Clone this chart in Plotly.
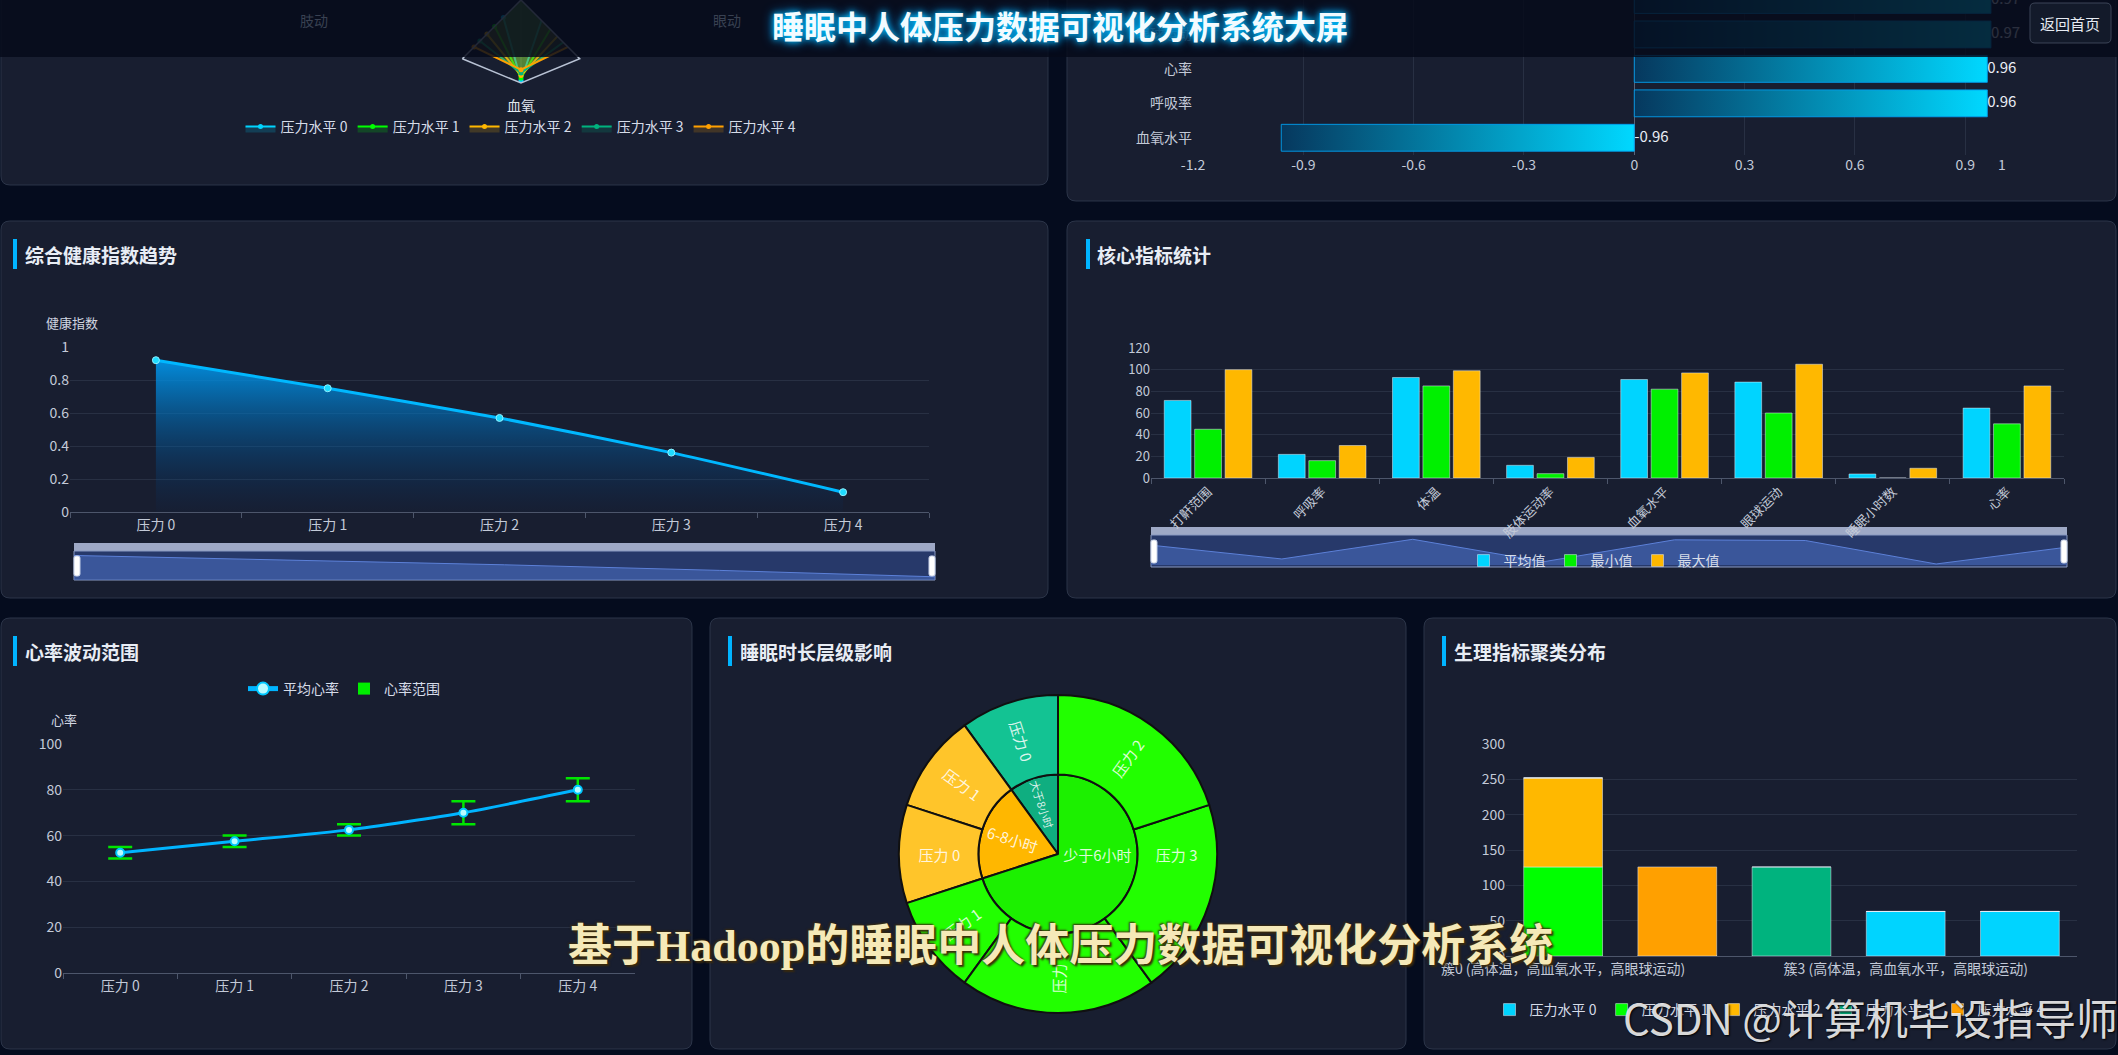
import plotly.graph_objects as go
import numpy as np

W, H = 2118, 1055
FONT = "Noto Sans CJK SC, Noto Sans, sans-serif"

# ---------------- data ----------------
stress_levels = ["压力水平 0", "压力水平 1", "压力水平 2", "压力水平 3", "压力水平 4"]
level_colors = ["#00d4ff", "#00ff00", "#ffb800", "#00b37e", "#ffa000"]

radar_indicators = ["打鼾", "心率", "呼吸", "眼动", "血氧", "肢动", "体温", "睡眠"]
radar_lv0 = [0.47, 0.55, 0.55, 0.35, 0.97, 0.30, 0.97, 0.90]
radar_lv1 = [0.55, 0.62, 0.62, 0.50, 0.94, 0.45, 0.96, 0.70]
radar_lv2 = [0.62, 0.68, 0.70, 0.62, 0.91, 0.58, 0.95, 0.45]
radar_lv3 = [0.75, 0.75, 0.80, 0.72, 0.88, 0.70, 0.93, 0.25]
radar_lv4 = [0.93, 0.90, 0.93, 0.80, 0.84, 0.80, 0.90, 0.05]

corr_features = ["血氧水平", "呼吸率", "心率", "眼球运动", "肢体运动率"]
corr_values = [-0.96, 0.96, 0.96, 0.97, 0.97]
corr_ticks = [-1.2, -0.9, -0.6, -0.3, 0, 0.3, 0.6, 0.9, 1]
corr_tick_text = ["-1.2", "-0.9", "-0.6", "-0.3", "0", "0.3", "0.6", "0.9", "1"]

stress_labels = ["压力 0", "压力 1", "压力 2", "压力 3", "压力 4"]
health_index = [0.92, 0.75, 0.57, 0.36, 0.12]

core_metrics = ["打鼾范围", "呼吸率", "体温", "肢体运动率", "血氧水平", "眼球运动", "睡眠小时数", "心率"]
core_avg = [71.6, 21.8, 92.8, 11.7, 90.9, 88.5, 3.7, 64.5]
core_min = [45, 16, 85, 4, 82, 60, 0, 50]
core_max = [100, 30, 99, 19, 97, 105, 9, 85]

hr_mean = [52.5, 57.5, 62.5, 70, 80]
hr_min = [50, 55, 60, 65, 75]
hr_max = [55, 60, 65, 75, 85]

sb_ids = ["大于8小时", "6-8小时", "少于6小时",
          "大于8小时/压力 0",
          "6-8小时/压力 1", "6-8小时/压力 0",
          "少于6小时/压力 1", "少于6小时/压力 4", "少于6小时/压力 3", "少于6小时/压力 2"]
sb_labels = ["大于8小时", "6-8小时", "少于6小时",
             "压力 0", "压力 1", "压力 0", "压力 1", "压力 4", "压力 3", "压力 2"]
sb_parents = ["", "", "", "大于8小时", "6-8小时", "6-8小时",
              "少于6小时", "少于6小时", "少于6小时", "少于6小时"]
sb_values = [63, 126, 441, 63, 63, 63, 63, 126, 126, 126]
sb_colors = ["#0fae80", "#ffb700", "#1cf000", "#13c393", "#ffc52a", "#ffc52a",
             "#22ff00", "#22ff00", "#22ff00", "#22ff00"]

clusters = ["簇0 (高体温，高血氧水平，高眼球运动)", "簇1 (高打鼾范围，高心率，高呼吸率)",
            "簇2 (高肢体运动率，高心率，高呼吸率)", "簇3 (高体温，高血氧水平，高眼球运动)",
            "簇4 (高睡眠小时数，高血氧水平，低心率)"]
cluster_lv0 = [0, 0, 0, 63, 63]
cluster_lv1 = [126, 0, 0, 0, 0]
cluster_lv2 = [126, 0, 0, 0, 0]
cluster_lv3 = [0, 0, 126, 0, 0]
cluster_lv4 = [0, 126, 0, 0, 0]


# ---------------- helpers ----------------
def X(px):
    return px / W


def Y(py):
    return 1 - py / H


def rgba(hexc, a):
    h = hexc.lstrip("#")
    return f"rgba({int(h[0:2],16)},{int(h[2:4],16)},{int(h[4:6],16)},{a})"


def rrect(x0, y0, x1, y1, r):
    def p(x, y):
        return f"{X(x):.6f},{Y(y):.6f}"
    return (f"M{p(x0+r,y0)} L{p(x1-r,y0)} Q{p(x1,y0)} {p(x1,y0+r)} "
            f"L{p(x1,y1-r)} Q{p(x1,y1)} {p(x1-r,y1)} L{p(x0+r,y1)} "
            f"Q{p(x0,y1)} {p(x0,y1-r)} L{p(x0,y0+r)} Q{p(x0,y0)} {p(x0+r,y0)} Z")


fig = go.Figure()

# ---------------- A: radar (mostly hidden) ----------------
for name, col, vals in zip(stress_levels, level_colors,
                           [radar_lv0, radar_lv1, radar_lv2, radar_lv3, radar_lv4]):
    fig.add_trace(go.Scatterpolar(
        r=vals + [vals[0]], theta=radar_indicators + [radar_indicators[0]],
        mode="lines+markers", fill="toself", fillcolor=rgba(col, 0.18),
        line=dict(color=col, width=2), marker=dict(size=5, color=col),
        name=name, subplot="polar", legend="legend", hoverinfo="skip"))

# ---------------- B: correlation bars ----------------
for i, v in enumerate(corr_values):
    y0, y1 = i - 0.39, i + 0.39
    fig.add_trace(go.Scatter(
        x=[0, v, v, 0, 0], y=[y0, y0, y1, y1, y0], mode="lines", fill="toself",
        line=dict(color="rgba(0,160,240,0.9)", width=1),
        fillgradient=dict(type="horizontal", colorscale=[[0, "#06385e"], [1, "#00d8ff"]]),
        xaxis="x", yaxis="y", showlegend=False, hoverinfo="skip"))
fig.add_trace(go.Scatter(
    x=[max(v, 0) for v in corr_values], y=list(range(len(corr_values))),
    mode="text", text=[f"{v:.2f}" for v in corr_values], textposition="middle right",
    textfont=dict(size=15, color="#e8edf5", family=FONT), cliponaxis=False,
    xaxis="x", yaxis="y", showlegend=False, hoverinfo="skip"))

# ---------------- C: health index trend ----------------
fig.add_trace(go.Scatter(
    x=stress_labels, y=health_index, mode="lines+markers",
    line=dict(color="#00b8ff", width=3, shape="spline", smoothing=0.5),
    marker=dict(size=7, color="#1fdcff", line=dict(color="#8ff0ff", width=1)),
    fill="tozeroy",
    fillgradient=dict(type="vertical", start=0, stop=1,
                      colorscale=[[0, "rgba(0,50,110,0.05)"], [1, "rgba(0,165,255,0.95)"]]),
    xaxis="x2", yaxis="y2", showlegend=False, hoverinfo="skip"))
fig.add_trace(go.Scatter(
    x=stress_labels, y=health_index, mode="lines",
    line=dict(color="#5c80d8", width=1), fill="tozeroy", fillcolor="rgba(72,106,186,0.6)",
    xaxis="x3", yaxis="y3", showlegend=False, hoverinfo="skip"))

# ---------------- D: core metrics ----------------
for name, col, vals in [("平均值", "#00d4ff", core_avg), ("最小值", "#00f000", core_min),
                        ("最大值", "#ffb800", core_max)]:
    fig.add_trace(go.Bar(x=core_metrics, y=vals, name=name, marker=dict(color=col),
                         xaxis="x4", yaxis="y4", legend="legend2", hoverinfo="skip"))
fig.add_trace(go.Scatter(
    x=core_metrics, y=core_avg, mode="lines", line=dict(color="#5c80d8", width=1),
    fill="tozeroy", fillcolor="rgba(72,106,186,0.6)",
    xaxis="x5", yaxis="y5", showlegend=False, hoverinfo="skip"))

# ---------------- E: heart-rate range ----------------
fig.add_trace(go.Scatter(
    x=stress_labels, y=hr_mean, mode="markers", name="心率范围",
    marker=dict(symbol="square", size=1, color="#00ee00"),
    error_y=dict(type="data", symmetric=False,
                 array=[mx - m for mx, m in zip(hr_max, hr_mean)],
                 arrayminus=[m - mn for m, mn in zip(hr_mean, hr_min)],
                 color="#00e600", thickness=2.5, width=12),
    xaxis="x6", yaxis="y6", legend="legend3", legendrank=2, hoverinfo="skip"))
fig.add_trace(go.Scatter(
    x=stress_labels, y=hr_mean, mode="lines+markers", name="平均心率",
    line=dict(color="#00b4ff", width=3, shape="spline", smoothing=0.6),
    marker=dict(size=8, color="#b8fbff", line=dict(color="#00c8ff", width=2)),
    xaxis="x6", yaxis="y6", legend="legend3", legendrank=1, hoverinfo="skip"))

# ---------------- F: sunburst ----------------
fig.add_trace(go.Sunburst(
    ids=sb_ids, labels=sb_labels, parents=sb_parents, values=sb_values,
    branchvalues="total", sort=False, rotation=90,
    marker=dict(colors=sb_colors, line=dict(color="#101010", width=2)),
    leaf=dict(opacity=1), insidetextorientation="radial",
    textfont=dict(size=15, color="rgba(255,255,255,0.85)", family=FONT),
    domain=dict(x=[X(899), X(1217)], y=[Y(1013), Y(695)]), hoverinfo="skip"))

# ---------------- G: cluster distribution ----------------
cl_series = [cluster_lv0, cluster_lv1, cluster_lv2, cluster_lv3, cluster_lv4]
cl_base = np.cumsum([[0] * len(clusters)] + cl_series[:-1], axis=0)
for name, col, vals, base in zip(stress_levels, level_colors, cl_series, cl_base):
    fig.add_trace(go.Bar(
        x=clusters, y=vals, base=base.tolist(), name=name, width=0.69,
        offsetgroup="cl", marker=dict(color=col),
        xaxis="x7", yaxis="y7", legend="legend4", hoverinfo="skip"))

# ---------------- layout ----------------
tickfont = dict(size=14, color="#c3cad8", family=FONT)
grid = "#283043"
axline = "#4d566b"

shapes = []
# panels
for (x0, y0, x1, y1) in [(1, -20, 1048, 185), (1067, -20, 2116, 201),
                         (1, 221, 1048, 598), (1067, 221, 2116, 598),
                         (1, 618, 692, 1049), (710, 618, 1406, 1049), (1424, 618, 2116, 1049)]:
    shapes.append(dict(type="path", path=rrect(x0, y0, x1, y1, 9), xref="paper", yref="paper",
                       fillcolor="#181e30", line=dict(color="#2c3549", width=1), layer="below"))
# title accent bars
for (x0, yc) in [(13, 254), (1086, 254), (13, 651), (728, 651), (1442, 651)]:
    shapes.append(dict(type="rect", xref="paper", yref="paper", x0=X(x0), x1=X(x0 + 4),
                       y0=Y(yc + 15), y1=Y(yc - 15), fillcolor="#00b4ff", line=dict(width=0),
                       layer="below"))
# sliders
for (x0, x1, yt, yb) in [(74, 935, 543, 580), (1151, 2067, 527, 567)]:
    shapes.append(dict(type="rect", xref="paper", yref="paper", x0=X(x0), x1=X(x1),
                       y0=Y(yt + 8), y1=Y(yt), fillcolor="#9ea9c6", line=dict(width=0), layer="below"))
    shapes.append(dict(type="rect", xref="paper", yref="paper", x0=X(x0), x1=X(x1),
                       y0=Y(yb), y1=Y(yt + 8), fillcolor="#27396a",
                       line=dict(color="#8a9ac2", width=1), layer="below"))
    for hx in (x0, x1 - 6):
        shapes.append(dict(type="path", path=rrect(hx, yt + 13, hx + 6, yb - 4, 2),
                           xref="paper", yref="paper", fillcolor="#ffffff",
                           line=dict(color="#c8d2e8", width=1), layer="above"))
# header overlay + button
shapes.append(dict(type="rect", xref="paper", yref="paper", x0=0, x1=1, y0=Y(57), y1=1,
                   fillcolor="rgba(6,11,26,0.84)", line=dict(width=0), layer="above"))
shapes.append(dict(type="path", path=rrect(2030, 3, 2111, 43, 5), xref="paper", yref="paper",
                   fillcolor="#131a2a", line=dict(color="#3c4558", width=1), layer="above"))

annotations = []


def ann(text, x, y, size, color, xanchor="center", weight="normal", family=FONT, shadow=None):
    f = dict(size=size, color=color, family=family, weight=weight)
    if shadow:
        f["shadow"] = shadow
    annotations.append(dict(text=text, x=X(x), y=Y(y), xref="paper", yref="paper",
                            showarrow=False, xanchor=xanchor, yanchor="middle", font=f))


# radar labels
ann("血氧", 521, 105, 14, "#e2e8f0")
ann("肢动", 314, 20, 14, "#394152")
ann("眼动", 727, 20, 14, "#394152")
# panel titles
ann("综合健康指数趋势", 23, 254, 19, "#e8edf5", "left", "bold")
ann("核心指标统计", 1095, 254, 19, "#e8edf5", "left", "bold")
ann("心率波动范围", 23, 651, 19, "#e8edf5", "left", "bold")
ann("睡眠时长层级影响", 738, 651, 19, "#e8edf5", "left", "bold")
ann("生理指标聚类分布", 1452, 651, 19, "#e8edf5", "left", "bold")
# axis names
ann("健康指数", 72, 323, 13, "#d0d6e2")
ann("心率", 64, 719, 13, "#d0d6e2")
# header
ann("睡眠中人体压力数据可视化分析系统大屏", 1060, 25, 32, "#f2fbff", weight="bold",
    shadow="0 0 6px #00c8ff, 0 0 12px #0096ff")
ann("返回首页", 2070, 23, 15, "#e6ebf3")
# overlays
ann("基于Hadoop的睡眠中人体压力数据可视化分析系统", 1060, 946, 44, "#f5e9b8", weight="bold",
    family="Liberation Serif, Noto Sans CJK SC, serif",
    shadow="2px 2px 2px #3a2a0c, -1px -1px 2px #3a2a0c")
ann("CSDN @计算机毕设指导师", 1870, 1016, 42, "rgba(238,238,238,0.92)",
    shadow="1px 1px 2px #000000")

legend_common = dict(orientation="h", xanchor="center", yanchor="middle",
                     bgcolor="rgba(0,0,0,0)", font=dict(size=14, color="#d6dce8", family=FONT),
                     itemwidth=30)

cat_common = dict(type="category", showline=True, linecolor=axline, ticks="outside",
                  tickson="boundaries", ticklen=5, tickcolor=axline, showgrid=False,
                  automargin=False)
val_common = dict(gridcolor=grid, zeroline=False, showline=False, automargin=False)

fig.update_layout(
    width=W, height=H, margin=dict(l=0, r=0, t=0, b=0, pad=0, autoexpand=False),
    paper_bgcolor="#050c1e", plot_bgcolor="rgba(0,0,0,0)",
    font=dict(family=FONT, color="#c3cad8"),
    barmode="group", bargap=0.2, bargroupgap=0.12,
    shapes=shapes, annotations=annotations,
    legend=dict(x=X(521), y=Y(127), **legend_common),
    legend2=dict(x=X(1594), y=Y(561), **legend_common),
    legend3=dict(x=X(344), y=Y(689), itemsizing="constant", **legend_common),
    legend4=dict(x=X(1770), y=Y(1010), **legend_common),
    polar=dict(domain=dict(x=[X(401), X(641)], y=[Y(83), 1]), sector=[225, 315],
               bgcolor="rgba(0,0,0,0)", gridshape="linear",
               angularaxis=dict(direction="clockwise", rotation=90, showticklabels=False,
                                ticks="", linecolor="#b8c2d4", linewidth=1.5,
                                gridcolor="#3a4356", categoryorder="array",
                                categoryarray=radar_indicators),
               radialaxis=dict(range=[0, 1], showgrid=False, showline=False,
                               showticklabels=False, ticks="")),
    # B
    xaxis=dict(domain=[X(1193), X(2002)], range=[-1.2, 1.0], tickvals=corr_ticks,
               ticktext=corr_tick_text, tickfont=tickfont, showgrid=True, gridcolor=grid,
               zeroline=True, zerolinecolor="#5a6478", zerolinewidth=1, showline=False,
               anchor="y", automargin=False),
    yaxis=dict(domain=[Y(155), 1], range=[-0.5, 4.0], tickvals=list(range(len(corr_features))),
               ticktext=corr_features, tickfont=tickfont, showgrid=False, zeroline=False,
               anchor="x", automargin=False),
    # C
    xaxis2=dict(domain=[X(70), X(929)], range=[-0.5, 4.5], anchor="y2", tickfont=tickfont,
                **cat_common),
    yaxis2=dict(domain=[Y(512), Y(347)], range=[0, 1], dtick=0.2, anchor="x2",
                tickfont=tickfont, **val_common),
    xaxis3=dict(domain=[X(74), X(935)], type="category", range=[0, 4], anchor="y3",
                visible=False, automargin=False),
    yaxis3=dict(domain=[Y(580), Y(552)], range=[0, 1.05], anchor="x3", visible=False,
                automargin=False),
    # D
    xaxis4=dict(domain=[X(1151), X(2064)], range=[-0.5, 7.5], anchor="y4", tickangle=-45,
                tickfont=dict(tickfont, size=13), **cat_common),
    yaxis4=dict(domain=[Y(478), Y(348)], range=[0, 120], dtick=20, anchor="x4",
                tickfont=dict(tickfont, size=13), **val_common),
    xaxis5=dict(domain=[X(1151), X(2067)], type="category", range=[0, 7], anchor="y5",
                visible=False, automargin=False),
    yaxis5=dict(domain=[Y(565), Y(534)], range=[0, 112], anchor="x5", visible=False,
                automargin=False),
    # E
    xaxis6=dict(domain=[X(63), X(635)], range=[-0.5, 4.5], anchor="y6", tickfont=tickfont,
                **cat_common),
    yaxis6=dict(domain=[Y(973), Y(744)], range=[0, 100], dtick=20, anchor="x6",
                tickfont=tickfont, **val_common),
    # G
    xaxis7=dict(domain=[X(1506), X(2077)], type="category", range=[-0.5, 4.5], anchor="y7",
                showline=True, linecolor=axline, ticks="", showgrid=False, tickfont=tickfont,
                tickvals=[clusters[0], clusters[3]], ticktext=[clusters[0], clusters[3]],
                automargin=False),
    yaxis7=dict(domain=[Y(956), Y(744)], range=[0, 300], dtick=50, anchor="x7",
                tickfont=tickfont, **val_common),
)

fig.write_html("out.html", config={"displayModeBar": False})
